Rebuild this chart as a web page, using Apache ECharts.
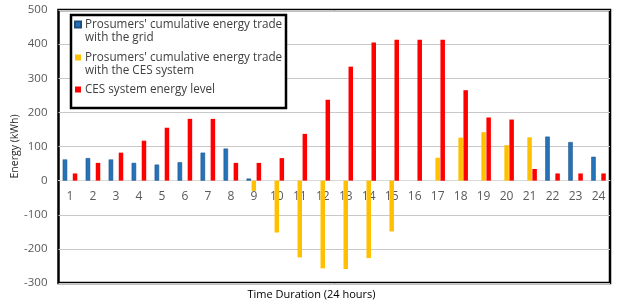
<!DOCTYPE html>
<html>
<head>
<meta charset="utf-8">
<script src="https://cdn.jsdelivr.net/npm/echarts@6/dist/echarts.min.js"></script>
<style>html,body{margin:0;padding:0;background:#fff}#c{width:623px;height:305px}</style>
</head>
<body>
<div id="c"></div>
<script>
var categories = ['1','2','3','4','5','6','7','8','9','10','11','12','13','14','15','16','17','18','19','20','21','22','23','24'];
var gridTrade = [62, 66, 62, 52, 47, 54, 82, 94, 6, null, null, null, null, null, null, null, null, null, null, null, null, 129, 113, 70];
var cesTrade = [null, null, null, null, null, null, null, null, -30, -152, -225, -257, -259, -227, -149, null, 67, 126, 142, 104, 127, null, null, null];
var cesLevel = [21, 52, 82, 117, 155, 181, 181, 52, 52, 66, 137, 237, 334, 405, 413, 413, 413, 265, 185, 179, 34, 21, 21, 21];
var yTicks = {min: -300, max: 500, interval: 100};
var seriesNames = ["Prosumers' cumulative energy trade with the grid", "Prosumers' cumulative energy trade with the CES system", "CES system energy level"];
var legendLabels = ["Prosumers' cumulative energy trade\nwith the grid", "Prosumers' cumulative energy trade\nwith the CES system", "CES system energy level\n "];

var font = 'Open Sans';
var topIcon = 'path://M0,0M0,3.5L6,3.5L6,9.5L0,9.5Z M6,26';
var gridTop = 10, gridBottom = 22, chartH = 305;
var plotH = chartH - gridTop - gridBottom;
var zeroFromBottom = plotH * (0 - yTicks.min) / (yTicks.max - yTicks.min);

var chart = echarts.init(document.getElementById('c'));
chart.setOption({
  animation: false,
  textStyle: {fontFamily: font},
  grid: {left: 58.5, right: 13, top: gridTop, bottom: gridBottom, containLabel: false, outerBoundsMode: 'none', show: true, borderColor: '#000', borderWidth: 2.5, backgroundColor: 'transparent'},
  legend: {
    orient: 'vertical', left: 74, top: 17, padding: 0,
    itemWidth: 6, itemHeight: 26, itemGap: 6,
    data: seriesNames.map(function (n) { return {name: n, icon: topIcon}; }),
    formatter: function (n) { return legendLabels[seriesNames.indexOf(n)]; },
    textStyle: {fontFamily: font, fontSize: 11.7, color: '#404040', lineHeight: 13, padding: [0, 0, 0, -1]},
    z: 5
  },
  graphic: [
    {type: 'rect', z: 4, shape: {x: 71, y: 15, width: 215, height: 93}, style: {fill: '#fff', stroke: '#000', lineWidth: 2.5}},
    {type: 'text', z: 5, left: 'center', top: 289, style: {text: 'Time Duration (24 hours)', fontFamily: font, fontSize: 11, fill: '#000'}}
  ],
  xAxis: {
    type: 'category', data: categories, position: 'bottom', offset: -zeroFromBottom,
    axisLine: {onZero: false, lineStyle: {color: '#d9d9d9', width: 1}},
    axisTick: {show: false},
    axisLabel: {color: '#595959', fontSize: 12, margin: 10, fontFamily: font}
  },
  yAxis: {
    type: 'value', min: yTicks.min, max: yTicks.max, interval: yTicks.interval,
    name: 'Energy (kWh)', nameLocation: 'middle', nameRotate: 90, nameGap: 38, nameMoveOverlap: false,
    nameTextStyle: {fontSize: 10.5, color: '#262626', fontFamily: font},
    axisLine: {show: false}, axisTick: {show: false},
    axisLabel: {color: '#595959', fontSize: 11.5, margin: 11, fontFamily: font},
    splitLine: {lineStyle: {color: '#c8c8c8', width: 1}}
  },
  series: [
    {name: seriesNames[0], type: 'bar', data: gridTrade, barWidth: 4.5, barGap: '12%', barCategoryGap: '38%', itemStyle: {color: '#2472b8', borderColor: '#1a4f80', borderWidth: 0.5}},
    {name: seriesNames[1], type: 'bar', data: cesTrade, barWidth: 4.5, barGap: '12%', itemStyle: {color: '#ffc000'}},
    {name: seriesNames[2], type: 'bar', data: cesLevel, barWidth: 4.5, barGap: '12%', itemStyle: {color: '#ff0000'}}
  ]
});
</script>
</body>
</html>
